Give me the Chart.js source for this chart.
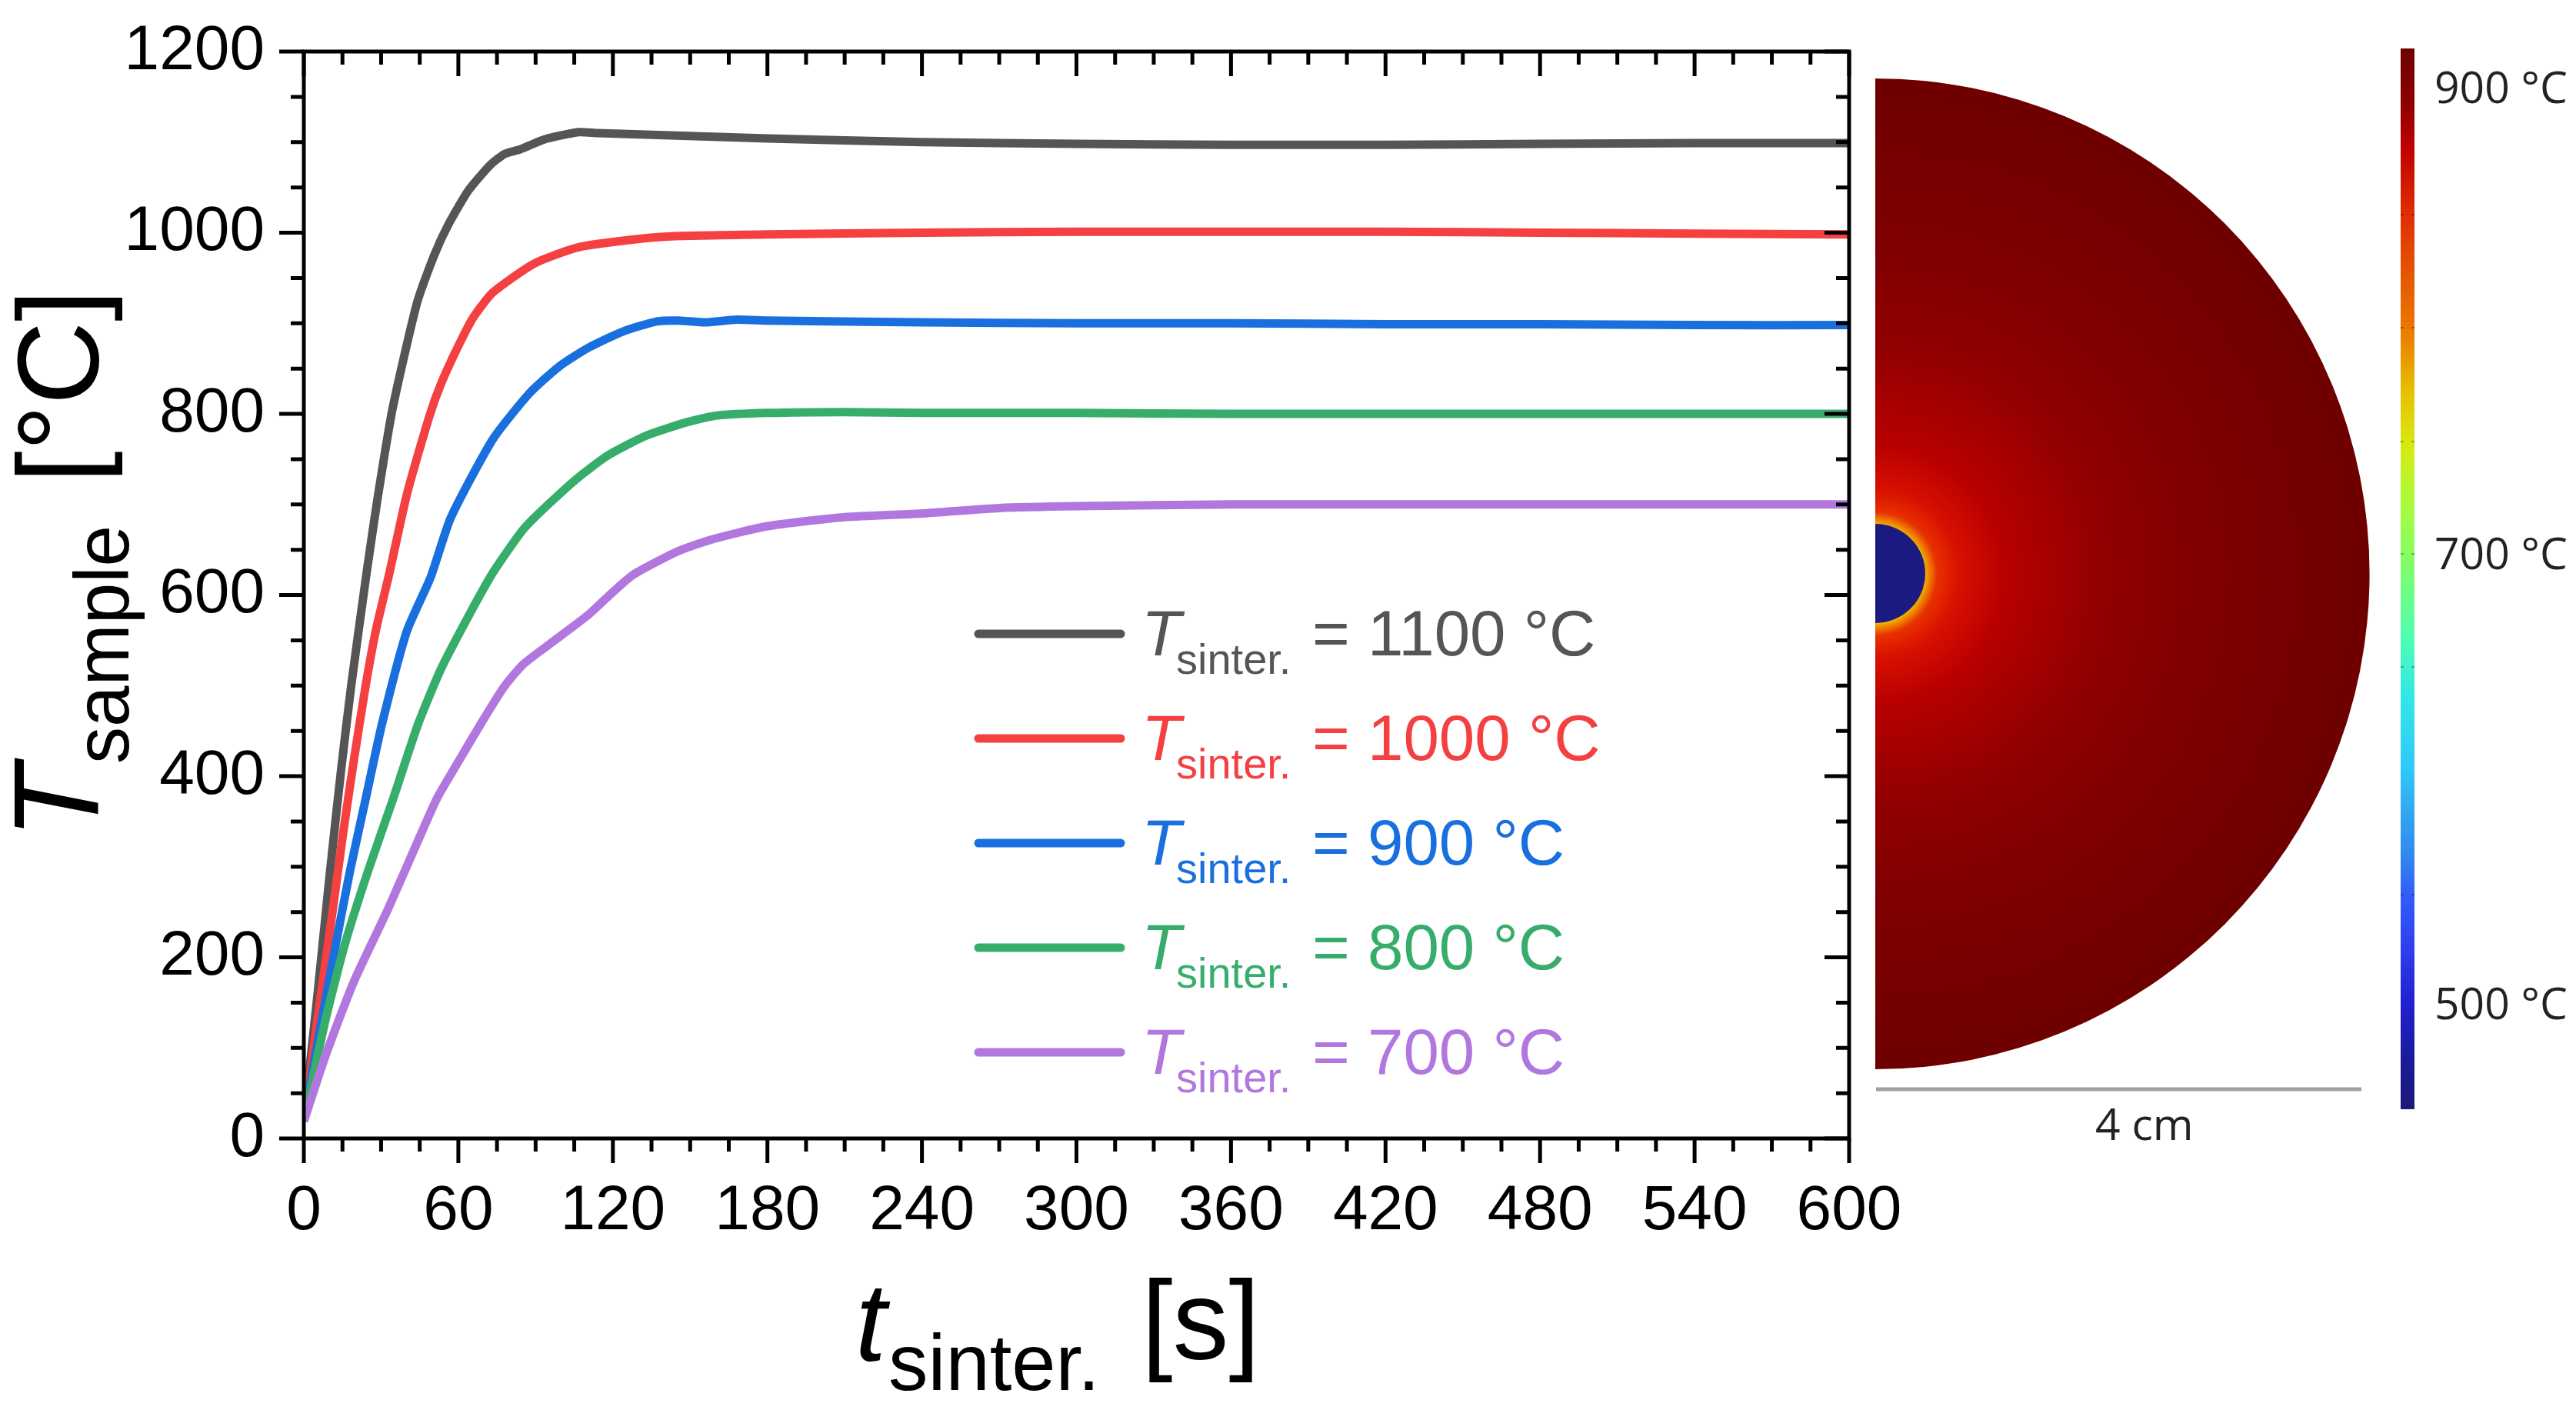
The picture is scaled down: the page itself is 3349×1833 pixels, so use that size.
<!DOCTYPE html>
<html lang="en">
<head>
<meta charset="UTF-8">
<title>Sample temperature during sintering</title>
<script src="https://cdn.jsdelivr.net/npm/chart.js"></script>
<style>
    html, body { margin: 0; padding: 0; background: #fff; }
    #wrap { position: relative; width: 3349px; height: 1833px; overflow: hidden; }
    #myChart { position: absolute; left: 0; top: 0; }
    #overlay { position: absolute; left: 0; top: 0; }
    #overlay text { font-family: "Liberation Sans", Arial, sans-serif; }
    #overlay text.sim { font-family: "Open Sans", sans-serif; fill: #222; font-size: 57px; }
</style>
</head>
<body>
<div id="wrap">
    <canvas id="myChart" width="3349" height="1833"></canvas>
    <svg id="overlay" width="3349" height="1833" xmlns="http://www.w3.org/2000/svg"></svg>
</div>
<script>
// values
const time1100 = [0, 5, 10, 14.4, 18.4, 24.4, 28.6, 34.4, 44, 50.6, 56.3, 64, 72.5, 78, 84, 93.4, 106.7, 114, 180, 240, 300, 360, 420, 480, 540, 600];
const temp1100 = [19, 150, 290, 405, 500, 625, 706, 805, 923, 975, 1010, 1047, 1075, 1087, 1092, 1103, 1111, 1110, 1104, 1100, 1098, 1097, 1097, 1098, 1099, 1099];
const time1000 = [0, 5, 10.4, 15.4, 19.4, 23.9, 27.9, 33.3, 40, 48.7, 53.4, 60, 65.7, 73.4, 89.5, 106.7, 129.6, 143, 180, 240, 300, 360, 420, 480, 540, 600];
const temp1000 = [19, 125, 235, 340, 417, 498, 560, 625, 711, 797, 834, 875, 906, 934, 966, 984, 993, 996, 998, 1000, 1001, 1001, 1001, 1000, 999, 998];
const time900 = [0, 5, 12.4, 17.9, 24.4, 30.3, 40, 49.3, 57, 73.4, 87.7, 99, 110.5, 124, 137, 145, 156, 168, 180, 240, 300, 360, 420, 480, 540, 600];
const temp900 = [19, 100, 214, 295, 380, 457, 560, 620, 685, 772, 823, 852, 873, 891, 902, 903, 901, 904, 903, 901, 900, 900, 899, 899, 898, 898];
const time800 = [0, 8.5, 15.9, 24.9, 34.8, 44.3, 53.2, 64, 73.5, 86, 105, 118, 133, 149, 160, 180, 210, 240, 300, 360, 420, 480, 540, 600];
const temp800 = [19, 132, 214, 295, 376, 457, 518, 577, 625, 675, 726, 754, 776, 791, 798, 801, 802, 801, 801, 800, 800, 800, 800, 800];
const time700 = [0, 8.5, 19.4, 32.8, 45.3, 51.8, 60.2, 69.2, 77.6, 85, 96, 110, 118, 127.7, 145, 158, 180, 210, 240, 270, 300, 360, 420, 480, 540, 600];
const temp700 = [19, 92, 173, 254, 335, 376, 417, 460, 498, 523, 547, 577, 598, 622, 648, 661, 676, 686, 690, 696, 698, 700, 700, 700, 700, 700];

const seriesNames = ['1100 °C', '1000 °C', '900 °C', '800 °C', '700 °C'];
const seriesColors = ['#555555', '#f44040', '#1a6fdf', '#37ad6b', '#b177de'];
const seriesTimes = [time1100, time1000, time900, time800, time700];
const seriesTemps = [temp1100, temp1000, temp900, temp800, temp700];

const xTickLabels = [0, 60, 120, 180, 240, 300, 360, 420, 480, 540, 600];
const yTickLabels = [0, 200, 400, 600, 800, 1000, 1200];

// plot frame in page pixels
const plotLeft = 395, plotTop = 67, plotRight = 2404, plotBottom = 1480;
const majorLen = 32, minorLen = 17;

// frame and ticks on all four sides, outward left/bottom, inward top/right
const frameTicks = {
    id: 'frameTicks',
    afterDatasetsDraw(chart) {
        const ctx = chart.ctx;
        const { left, right, top, bottom } = chart.chartArea;
        ctx.save();
        ctx.strokeStyle = '#000';
        ctx.lineWidth = 5;
        ctx.strokeRect(left, top, right - left, bottom - top);
        ctx.beginPath();
        chart.scales.x.ticks.forEach(t => {
            const px = chart.scales.x.getPixelForValue(t.value);
            const len = xTickLabels.includes(t.value) ? majorLen : minorLen;
            ctx.moveTo(px, bottom); ctx.lineTo(px, bottom + len);
            ctx.moveTo(px, top); ctx.lineTo(px, top + len);
        });
        chart.scales.y.ticks.forEach(t => {
            const py = chart.scales.y.getPixelForValue(t.value);
            const len = yTickLabels.includes(t.value) ? majorLen : minorLen;
            ctx.moveTo(left, py); ctx.lineTo(left - len, py);
            ctx.moveTo(right, py); ctx.lineTo(right - len, py);
        });
        ctx.stroke();
        ctx.restore();
    }
};

const tickFont = { family: '"Liberation Sans", Arial, sans-serif', size: 82 };

new Chart(document.getElementById('myChart'), {
    type: 'line',
    data: {
        datasets: seriesNames.map((name, i) => ({
            label: name,
            data: seriesTimes[i].map((t, j) => ({ x: t, y: seriesTemps[i][j] })),
            borderColor: seriesColors[i],
            borderWidth: 11,
            pointRadius: 0,
            fill: false,
            tension: 0.2,
            borderJoinStyle: 'round',
            order: seriesNames.length - i
        }))
    },
    options: {
        responsive: false,
        animation: false,
        devicePixelRatio: 1,
        layout: { padding: { left: 0, top: plotTop, right: 3349 - plotRight, bottom: 0 } },
        plugins: { legend: { display: false }, tooltip: { enabled: false } },
        scales: {
            x: {
                type: 'linear',
                min: 0,
                max: 600,
                grid: { display: false, tickLength: majorLen },
                border: { display: false },
                ticks: {
                    stepSize: 15,
                    autoSkip: false,
                    maxRotation: 0,
                    padding: 14,
                    color: '#000',
                    font: tickFont,
                    callback: v => xTickLabels.includes(v) ? String(v) : ''
                },
                afterFit(scale) {
                    scale.height = 1833 - plotBottom;
                    scale.paddingLeft = 0;
                    scale.paddingRight = 0;
                }
            },
            y: {
                min: 0,
                max: 1200,
                grid: { display: false, tickLength: majorLen },
                border: { display: false },
                ticks: {
                    stepSize: 50,
                    autoSkip: false,
                    padding: 19,
                    color: '#000',
                    font: tickFont,
                    callback: v => yTickLabels.includes(v) ? String(v) : ''
                },
                afterFit(scale) {
                    scale.width = plotLeft;
                    scale.paddingTop = 0;
                    scale.paddingBottom = 0;
                }
            }
        }
    },
    plugins: [frameTicks]
});

// temperature field panel: radius fraction and colour
const fieldStops = [[0.099, '#f0b800'], [0.106, '#f09000'], [0.125, '#e83000'], [0.17, '#d81000'], [0.26, '#b80000'], [0.45, '#930000'], [0.65, '#800000'], [1, '#6e0000']];
// colour bar stops from top to bottom
const barStops = [[0, '#6e0000'], [0.05, '#8c0000'], [0.094, '#c00000'], [0.158, '#e03000'], [0.264, '#ea7800'], [0.324, '#e6c000'], [0.371, '#d8e810'], [0.417, '#b4f830'], [0.476, '#88ff60'], [0.555, '#50ffb0'], [0.61, '#30e8e8'], [0.679, '#30c8fa'], [0.72, '#30a8f0'], [0.762, '#3088f0'], [0.795, '#3060f8'], [0.846, '#3040f0'], [0.90, '#2020d0'], [0.956, '#1a1a98'], [1, '#1a1a78']];
const barMarks = [279, 426, 574, 720, 867, 1163];
const barLabels = [['900 °C', 134], ['700 °C', 740], ['500 °C', 1325]];

const stopTags = list => list.map(s => `<stop offset="${s[0]}" stop-color="${s[1]}"/>`).join('');

let svg = `<defs>
    <radialGradient id="field" gradientUnits="userSpaceOnUse" cx="2438" cy="746" r="644">${stopTags(fieldStops)}</radialGradient>
    <linearGradient id="bar" x1="0" y1="0" x2="0" y2="1">${stopTags(barStops)}</linearGradient>
</defs>`;

// axis titles
svg += `<text transform="translate(128,1079) rotate(-90)" fill="#000"><tspan font-size="158" font-style="italic" x="-12" y="0">T</tspan><tspan font-size="100" x="86" y="39" textLength="310" lengthAdjust="spacingAndGlyphs">sample</tspan><tspan font-size="150" x="451" y="0">[°C]</tspan></text>`;
svg += `<text fill="#000"><tspan font-size="145" font-style="italic" x="1112" y="1769">t</tspan><tspan font-size="103" x="1155" y="1807">sinter.</tspan><tspan font-size="146" x="1484" y="1767">[s]</tspan></text>`;

// legend
seriesNames.forEach((name, i) => {
    const y = 824 + i * 136;
    const c = seriesColors[i];
    svg += `<line x1="1272" y1="${y}" x2="1457" y2="${y}" stroke="${c}" stroke-width="11" stroke-linecap="round"/>`;
    svg += `<text fill="${c}"><tspan font-size="84" font-style="italic" x="1484" y="${y + 28}">T</tspan><tspan font-size="56" x="1529" y="${y + 52}">sinter.</tspan><tspan font-size="83.5" x="1706" y="${y + 28}">= ${name}</tspan></text>`;
});

// semicircle with sample in the middle
svg += `<path d="M2438 102 A642.6 644 0 0 1 2438 1390 Z" fill="url(#field)"/>`;
svg += `<path d="M2438 681 A65 64.5 0 0 1 2438 810 Z" fill="#1a1a80"/>`;
svg += `<line x1="2439" y1="1416" x2="3070" y2="1416" stroke="#a0a0a0" stroke-width="5"/>`;
svg += `<text class="sim" x="2724" y="1482">4 cm</text>`;

// colour bar
svg += `<rect x="3121" y="63" width="18" height="1379" fill="url(#bar)"/>`;
barMarks.forEach(y => {
    svg += `<line x1="3121" y1="${y}" x2="3125" y2="${y}" stroke="rgba(0,0,0,0.3)" stroke-width="2"/><line x1="3135" y1="${y}" x2="3139" y2="${y}" stroke="rgba(0,0,0,0.3)" stroke-width="2"/>`;
});
barLabels.forEach(b => {
    svg += `<text class="sim" x="3165" y="${b[1]}">${b[0]}</text>`;
});

document.getElementById('overlay').innerHTML = svg;
</script>
</body>
</html>
